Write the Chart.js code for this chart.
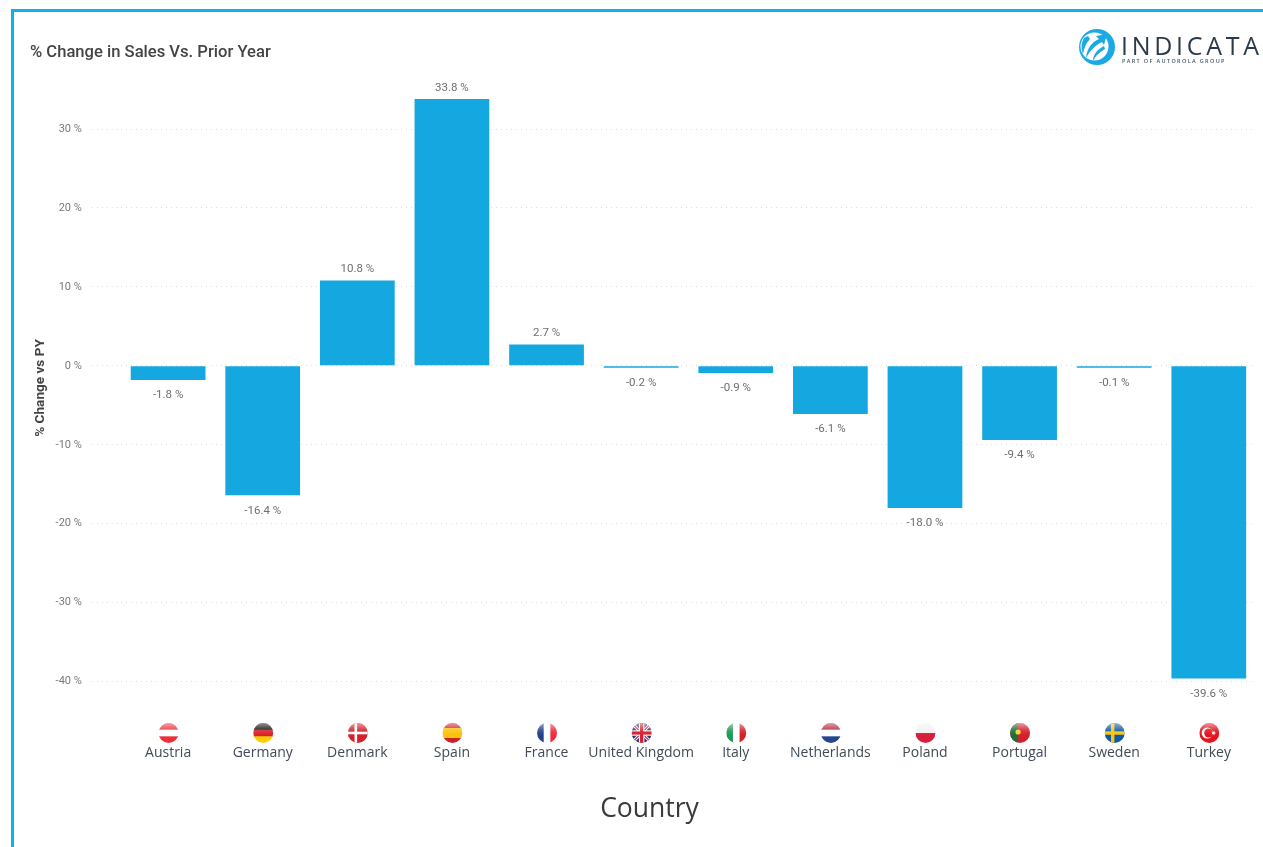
<!DOCTYPE html>
<html><head><meta charset="utf-8">
<script src="https://cdn.jsdelivr.net/npm/chart.js@4"></script>
<style>
html,body{margin:0;padding:0;background:#fff;overflow:hidden}
#wrap{position:absolute;left:0;top:0;width:1263px;height:847px}
#frame{position:absolute;left:11px;top:9px;right:0;bottom:0;border-left:3px solid #0fb1ec;border-top:3px solid #0fb1ec;pointer-events:none}
canvas{position:absolute;left:0;top:0}
#logo{position:absolute;left:1078px;top:28px;width:38px;height:38px}
#brand{position:absolute;left:1121px;top:29px;font:400 25px/32px "Open Sans",sans-serif;letter-spacing:3.7px;color:#2b3a4a;white-space:nowrap}
#sub{position:absolute;left:1122px;top:58px;font:600 5.5px/7px "Open Sans",sans-serif;letter-spacing:1.35px;color:#4a5663;white-space:nowrap}
</style></head>
<body><div id="wrap">
<canvas id="c" width="1263" height="847"></canvas>
<div id="frame"></div>
<svg id="logo" viewBox="0 0 38 38">
<circle cx="19" cy="19" r="18" fill="#1aa9e4"/>
<circle cx="16.5" cy="18.5" r="14" fill="#fff"/>
<path d="M29 6 L18 8 L21 11 C14 14 9 20 8 30 C12 23 16 18 24 14 L26 17 Z" fill="#1aa9e4"/>
<path d="M26 18 C20 21 15 26 15 33 C18 27 22 24 27 21 Z" fill="#1aa9e4"/>
<path d="M6 10 C3 15 3 21 5 26 C6 20 8 15 12 11 L10 8 Z" fill="#1aa9e4"/>
</svg>
<div id="brand">INDICATA</div>
<div id="sub">PART OF AUTOROLA GROUP</div>
</div>
<script>
const categories = ["Austria","Germany","Denmark","Spain","France","United Kingdom","Italy","Netherlands","Poland","Portugal","Sweden","Turkey"];
const salesChange = [-1.8,-16.4,10.8,33.8,2.7,-0.2,-0.9,-6.1,-18.0,-9.4,-0.1,-39.6];
const yTicks = [30,20,10,0,-10,-20,-30,-40];
const titleText = "% Change in Sales Vs. Prior Year";
const yTitleText = "% Change vs PY";
const xTitleText = "Country";

function stripes(ctx,x,y,r,cols,vertical){
  const n=cols.length;
  cols.forEach((col,i)=>{ctx.fillStyle=col;
    if(vertical)ctx.fillRect(x-r+i*2*r/n,y-r,2*r/n+.5,2*r);
    else ctx.fillRect(x-r,y-r+i*2*r/n,2*r,2*r/n+.5);});
}
function cross(ctx,x,y,r,bg,fg,off,w){
  ctx.fillStyle=bg;ctx.fillRect(x-r,y-r,2*r,2*r);
  ctx.fillStyle=fg;ctx.fillRect(x-r,y-w/2,2*r,w);ctx.fillRect(x+off-w/2,y-r,w,2*r);
}
const flags = {
  "Austria":(c,x,y,r)=>stripes(c,x,y,r,["#ee2f3a","#fff","#ee2f3a"]),
  "Germany":(c,x,y,r)=>stripes(c,x,y,r,["#111","#d8232a","#ffce00"]),
  "Denmark":(c,x,y,r)=>cross(c,x,y,r,"#d3202c","#fff",-2,2.6),
  "Spain":(c,x,y,r)=>{stripes(c,x,y,r,["#c8202c","#fcc30b","#fcc30b","#c8202c"]);},
  "France":(c,x,y,r)=>stripes(c,x,y,r,["#24408e","#fff","#ef2b3d"],true),
  "United Kingdom":(c,x,y,r)=>{
    c.fillStyle="#27377a";c.fillRect(x-r,y-r,2*r,2*r);
    c.strokeStyle="#fff";c.lineWidth=3;c.beginPath();c.moveTo(x-r,y-r);c.lineTo(x+r,y+r);c.moveTo(x+r,y-r);c.lineTo(x-r,y+r);c.stroke();
    c.strokeStyle="#d3202c";c.lineWidth=1.2;c.stroke();
    c.fillStyle="#fff";c.fillRect(x-r,y-2.7,2*r,5.4);c.fillRect(x-2.7,y-r,5.4,2*r);
    c.fillStyle="#d3202c";c.fillRect(x-r,y-1.6,2*r,3.2);c.fillRect(x-1.6,y-r,3.2,2*r);},
  "Italy":(c,x,y,r)=>stripes(c,x,y,r,["#1f9a54","#fff","#d3202c"],true),
  "Netherlands":(c,x,y,r)=>stripes(c,x,y,r,["#b5293c","#fff","#21478f"]),
  "Poland":(c,x,y,r)=>stripes(c,x,y,r,["#f2f2f2","#d81f3c"]),
  "Portugal":(c,x,y,r)=>{
    c.fillStyle="#d3202c";c.fillRect(x-r,y-r,2*r,2*r);
    c.fillStyle="#17713a";c.fillRect(x-r,y-r,r*.8,2*r);
    c.fillStyle="#f5d327";c.beginPath();c.arc(x-r*.2,y-r*.1,2.6,0,7);c.fill();},
  "Sweden":(c,x,y,r)=>cross(c,x,y,r,"#0f5aa6","#fcc30b",-2,3.4),
  "Turkey":(c,x,y,r)=>{
    c.fillStyle="#e3141f";c.fillRect(x-r,y-r,2*r,2*r);
    c.fillStyle="#fff";c.beginPath();c.arc(x-2,y,5.6,0,7);c.fill();
    c.fillStyle="#e3141f";c.beginPath();c.arc(x-.6,y,4.5,0,7);c.fill();
    c.fillStyle="#fff";c.beginPath();
    for(let i=0;i<10;i++){const a=i*Math.PI/5,q=i%2?1.1:2.6;c.lineTo(x+4.2+q*Math.cos(a),y+q*Math.sin(a));}
    c.closePath();c.fill();}
};

const barLabels = {
  id:"barLabels",
  afterDatasetsDraw(chart){
    const ctx=chart.ctx, meta=chart.getDatasetMeta(0);
    ctx.save();
    ctx.font='400 11.5px Roboto, sans-serif';ctx.fillStyle="#6f6f6f";
    ctx.textAlign="center";ctx.textBaseline="middle";
    meta.data.forEach((bar,i)=>{
      const v=salesChange[i];
      ctx.fillText(v.toFixed(1)+" %",bar.x,bar.y+(v>=0?-11:15.5));
    });
    ctx.restore();
  }
};
const flagIcons = {
  id:"flagIcons",
  afterDraw(chart){
    const ctx=chart.ctx, xs=chart.scales.x, r=10;
    categories.forEach((name,i)=>{
      const x=xs.getPixelForValue(i)+.5, y=733;
      ctx.save();
      ctx.beginPath();ctx.arc(x,y,r,0,Math.PI*2);ctx.clip();
      flags[name](ctx,x,y,r);
      const g=ctx.createLinearGradient(0,y-r,0,y+2);
      g.addColorStop(0,"rgba(255,255,255,.55)");g.addColorStop(.6,"rgba(255,255,255,.12)");g.addColorStop(1,"rgba(255,255,255,0)");
      ctx.fillStyle=g;ctx.fillRect(x-r,y-r,2*r,r+2);
      ctx.restore();
    });
    ctx.save();
    ctx.font='400 26.5px "Open Sans", sans-serif';ctx.fillStyle="#3a3a3a";
    ctx.textAlign="center";ctx.textBaseline="middle";
    ctx.fillText(xTitleText,649.5,809);
    ctx.restore();
  }
};

new Chart(document.getElementById("c"),{
  type:"bar",
  data:{labels:categories,datasets:[{data:salesChange,backgroundColor:"#14a7e0",barPercentage:.79,categoryPercentage:1,minBarLength:2}]},
  plugins:[barLabels,flagIcons],
  options:{
    responsive:false,animation:false,
    layout:{padding:{left:30,right:6.9,top:43,bottom:22}},
    plugins:{
      legend:{display:false},tooltip:{enabled:false},
      title:{display:true,text:titleText,align:"start",color:"#444",
        font:{family:"Roboto",size:16.6,weight:"500"},padding:{top:0,bottom:3}}
    },
    scales:{
      x:{
        afterFit(a){a.height=115;},
        grid:{display:false},border:{display:false},
        ticks:{color:"#3f4b58",font:{family:"Open Sans",size:14},padding:26.5,maxRotation:0,autoSkip:false}
      },
      y:{
        min:-43.6,max:38,
        afterBuildTicks(a){a.ticks=yTicks.map(v=>({value:v}));},
        afterFit(a){a.width=90.8;},
        grid:{color:"#dcdcdc",lineWidth:1,tickLength:29,tickColor:"#dcdcdc",tickBorderDash:[1,4],drawTicks:true},
        border:{display:false,dash:[1,4]},
        ticks:{color:"#7a7a7a",font:{family:"Roboto",size:11},padding:10,callback:v=>v+" %"},
        title:{display:true,text:yTitleText,color:"#444",font:{family:"Roboto",size:13.6,weight:"700"},padding:{top:2,bottom:0}}
      }
    }
  }
});
</script></body></html>
